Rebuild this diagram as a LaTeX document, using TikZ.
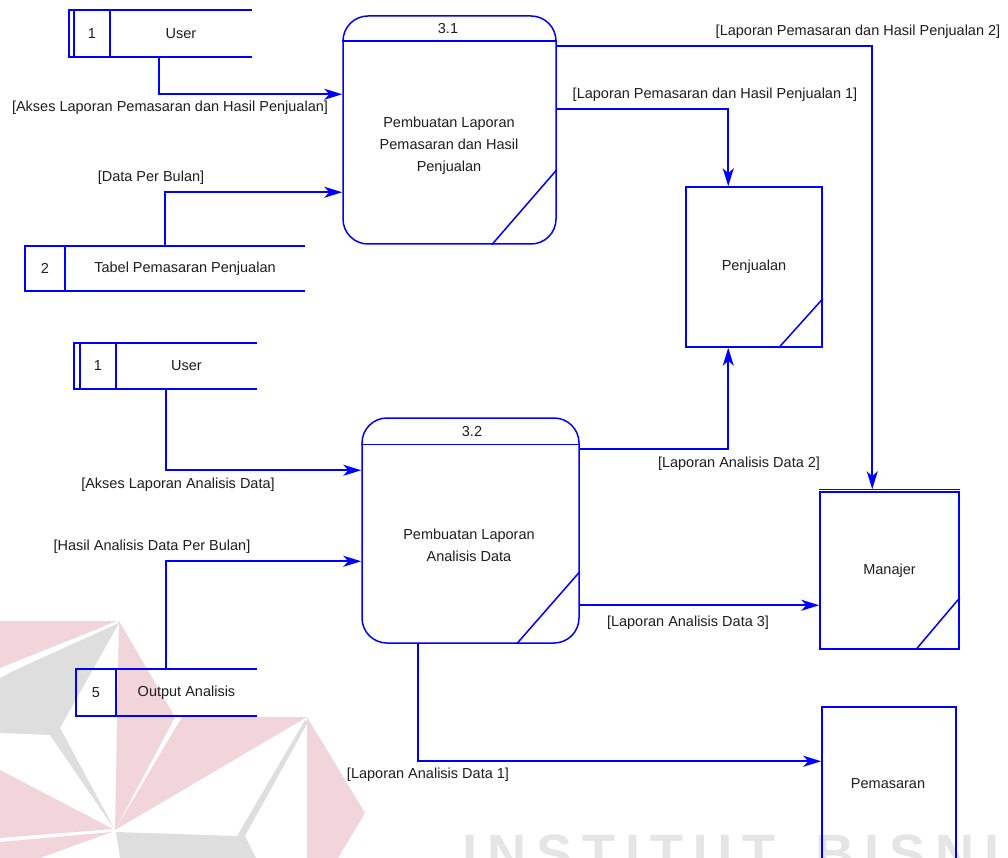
\documentclass[tikz,border=0pt]{standalone}
\usepackage{fontspec}
\setmainfont{Liberation Sans}
\usetikzlibrary{arrows.meta,calc}

\definecolor{dfdblue}{RGB}{0,0,255}
\definecolor{inkgray}{RGB}{30,30,30}
\definecolor{wmpink}{RGB}{241,213,218}
\definecolor{wmgray}{RGB}{222,222,222}
\definecolor{wmletters}{RGB}{229,229,229}

\tikzset{
  base/.style={font=\fontsize{14.5}{22}\selectfont, text=inkgray, inner sep=0pt},
  proc/.style={draw=dfdblue, line width=1.5pt, rounded corners=25pt, inner sep=0pt},
  store/.style={base, draw=dfdblue, line width=1.5pt},
  cell/.style={base},
  txt/.style={base, align=center},
  lbl/.style={base},
  edge/.style={draw=dfdblue, line width=1.5pt},
  flow/.style={draw=dfdblue, line width=1.8pt, -{Stealth[length=18pt,width=11pt,inset=5pt]}},
  wmark/.style={font=\fontsize{54}{60}\selectfont\bfseries, text=wmletters, inner sep=0pt, anchor=north west}
}

\begin{document}
\begin{tikzpicture}[x=1pt, y=-1pt]
\useasboundingbox (0,0) rectangle (1008,858);
\fill[white] (0,0) rectangle (1008,858);
\clip (0,0) rectangle (1008,858);

% ---- watermark logo and lettering ----
\fill[wmpink] (0,621) -- (117,621) -- (0,668) -- cycle;
\fill[wmgray] (119,623) -- (60,728) -- (115,830) -- (50,735) -- (0,733) -- (0,678) -- (13,671) -- cycle;
\fill[wmpink] (119,621) -- (175,717) -- (115,830) -- cycle;
\fill[wmpink] (182,717) -- (307,717) -- (115,830) -- cycle;
\fill[wmpink] (0,770) -- (113,829) -- (0,838) -- cycle;
\fill[wmpink] (0,842) -- (112,832) -- (40,858) -- (0,858) -- cycle;
\fill[wmgray] (116,832) -- (237,836) -- (305,720) -- (308,722) -- (245,836) -- (256,858) -- (120,858) -- cycle;
\fill[wmpink] (307,717) -- (365,813) -- (338,858) -- (307,858) -- cycle;
\node[wmark] (wmtext) at (462,835) {I\hspace{10pt}N\hspace{10pt}S\hspace{10pt}T\hspace{10pt}I\hspace{10pt}T\hspace{10pt}U\hspace{10pt}T\hspace{40pt}B\hspace{10pt}I\hspace{10pt}S\hspace{10pt}N\hspace{10pt}I\hspace{10pt}S};

% ---- external entities ----
\node[cell, minimum width=36pt, minimum height=47pt] (u1n) at (92,33.5) {1};
\node[cell, minimum width=142pt, minimum height=47pt] (u1) at (181,33.5) {User};
\draw[edge] (u1.north east) -- ($(u1n.north west)+(-5,0)$) -- ($(u1n.south west)+(-5,0)$) -- (u1.south east);
\draw[edge] (u1n.north west) -- (u1n.south west);
\draw[edge] (u1n.north east) -- (u1n.south east);

\node[cell, minimum width=40pt, minimum height=45pt] (t2n) at (45,268.5) {2};
\node[cell, minimum width=240pt, minimum height=45pt] (t2) at (185,268.5) {Tabel Pemasaran Penjualan};
\draw[edge] (t2.north east) -- (t2n.north west) -- (t2n.south west) -- (t2.south east);
\draw[edge] (t2n.north east) -- (t2n.south east);

\node[cell, minimum width=36pt, minimum height=46pt] (u2n) at (98,366) {1};
\node[cell, minimum width=141pt, minimum height=46pt] (u2) at (186.5,366) {User};
\draw[edge] (u2.north east) -- ($(u2n.north west)+(-6,0)$) -- ($(u2n.south west)+(-6,0)$) -- (u2.south east);
\draw[edge] (u2n.north west) -- (u2n.south west);
\draw[edge] (u2n.north east) -- (u2n.south east);

\node[cell, minimum width=40pt, minimum height=47pt] (o5n) at (96,692.5) {5};
\node[cell, minimum width=141pt, minimum height=47pt] (o5) at (186.5,692.5) {Output Analisis};
\draw[edge] (o5.north east) -- (o5n.north west) -- (o5n.south west) -- (o5.south east);
\draw[edge] (o5n.north east) -- (o5n.south east);

% ---- processes ----
\node[proc, minimum width=213pt, minimum height=228pt] (p31) at (449.5,130) {};
\draw[edge] ($(p31.north west)+(0,26)$) -- ($(p31.north east)+(0,26)$);
\draw[edge] ($(p31.south east)+(0,-75)$) -- ($(p31.south east)+(-65,0)$);
\node[lbl] (p31id) at (448,29) {3.1};
\node[txt] (p31txt) at (449,146) {Pembuatan Laporan\\Pemasaran dan Hasil\\Penjualan};

\node[proc, minimum width=217pt, minimum height=225pt] (p32) at (470.5,530.5) {};
\draw[edge] ($(p32.north west)+(0,27)$) -- ($(p32.north east)+(0,27)$);
\draw[edge] ($(p32.south east)+(0,-72)$) -- ($(p32.south east)+(-63,0)$);
\node[lbl] (p32id) at (472,432) {3.2};
\node[txt] (p32txt) at (469,545) {Pembuatan Laporan\\Analisis Data};

% ---- data stores ----
\node[store, minimum width=136pt, minimum height=160pt] (pj) at (754,267) {Penjualan};
\draw[edge] ($(pj.south east)+(0,-49)$) -- ($(pj.south east)+(-44,0)$);

\node[store, minimum width=139pt, minimum height=157pt] (mj) at (889.5,570.5) {Manajer};
\draw[edge] ($(mj.north west)+(0,-2)$) -- ($(mj.north east)+(0,-2)$);
\draw[edge] ($(mj.south east)+(0,-52)$) -- ($(mj.south east)+(-44,0)$);

\node[store, minimum width=134pt, minimum height=193pt] (pm) at (889,803.5) {};
\node[txt] (pmtxt) at (888,784) {Pemasaran};

% ---- data flows ----
\draw[flow] ($(u1.south west)+(49,0)$) |- ($(p31.north west)+(0,79)$);
\draw[flow] ($(t2.north west)+(100,0)$) |- ($(p31.north west)+(0,177)$);
\draw[flow] ($(p31.north east)+(0,31)$) -| ($(mj.north west)+(53,-2)$);
\draw[flow] ($(p31.north east)+(0,94)$) -| ($(pj.north west)+(43,0)$);
\draw[flow] ($(u2.south west)+(50,0)$) |- ($(p32.north west)+(0,53)$);
\draw[flow] ($(o5.north west)+(50,0)$) |- ($(p32.north west)+(0,144)$);
\draw[flow] ($(p32.north east)+(0,32)$) -| ($(pj.south west)+(43,0)$);
\draw[flow] ($(p32.north east)+(0,188)$) -- ($(mj.north west)+(0,114)$);
\draw[flow] ($(p32.south west)+(57,0)$) |- ($(pm.north west)+(0,55)$);

% ---- flow labels ----
\node[lbl] (l1) at (170,108) {[Akses Laporan Pemasaran dan Hasil Penjualan]};
\node[lbl] (l2) at (151,178) {[Data Per Bulan]};
\node[lbl] (l3) at (858,32) {[Laporan Pemasaran dan Hasil Penjualan 2]};
\node[lbl] (l4) at (715,95) {[Laporan Pemasaran dan Hasil Penjualan 1]};
\node[lbl] (l5) at (178,485) {[Akses Laporan Analisis Data]};
\node[lbl] (l6) at (152,547) {[Hasil Analisis Data Per Bulan]};
\node[lbl] (l7) at (739,464) {[Laporan Analisis Data 2]};
\node[lbl] (l8) at (688,623) {[Laporan Analisis Data 3]};
\node[lbl] (l9) at (428,775) {[Laporan Analisis Data 1]};
\end{tikzpicture}
\end{document}
